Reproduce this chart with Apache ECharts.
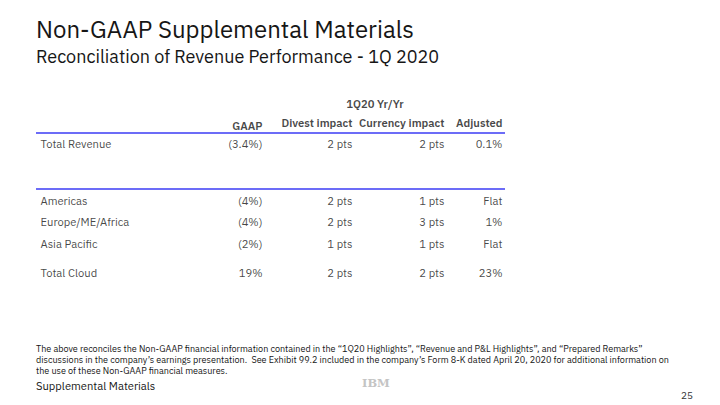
<!DOCTYPE html>
<html>
<head>
<meta charset="utf-8">
<script src="https://cdn.jsdelivr.net/npm/echarts@6/dist/echarts.min.js"></script>
<style>
html,body{margin:0;padding:0;background:#fff;}
#chart{width:720px;height:405px;}
</style>
</head>
<body>
<div id="chart"></div>
<script>
// ---- data ----
var title = 'Non-GAAP Supplemental Materials';
var subtitle = 'Reconciliation of Revenue Performance - 1Q 2020';
var groupHeader = '1Q20 Yr/Yr';
var columns = ['GAAP', 'Divest impact', 'Currency impact', 'Adjusted'];
var rowLabels = ['Total Revenue', 'Americas', 'Europe/ME/Africa', 'Asia Pacific', 'Total Cloud'];
var gaap = ['(3.4%)', '(4%)', '(4%)', '(2%)', '19%'];
var divest = ['2 pts', '2 pts', '2 pts', '1 pts', '2 pts'];
var currency = ['2 pts', '1 pts', '3 pts', '1 pts', '2 pts'];
var adjusted = ['0.1%', 'Flat', '1%', 'Flat', '23%'];
var footnote = [
  'The above reconciles the Non-GAAP financial information contained in the \u201c1Q20 Highlights\u201d, \u201cRevenue and P&L Highlights\u201d, and \u201cPrepared Remarks\u201d',
  'discussions in the company\u2019s earnings presentation.  See Exhibit 99.2 included in the company\u2019s Form 8-K dated April 20, 2020 for additional information on',
  'the use of these Non-GAAP financial measures.'
];
var footerLeft = 'Supplemental Materials';
var pageNumber = '25';

// ---- layout (positions in page coordinates) ----
var layout = {
  labelX: 40,
  colRight: [263, 353, 445, 503],
  headerY: [126, 123, 123, 123],
  groupX: 375, groupY: 104,
  rowY: [144, 201, 222, 244, 273],
  ruleY: [133, 189], ruleX0: 36, ruleX1: 505,
  footX: 36, footY: 343, footWidth: 607
};
var FONT = '"IBM Plex Sans", "Noto Sans", "Open Sans", sans-serif';
var FOOT_FONT = '8.6px "IBM Plex Sans", "Noto Sans", sans-serif';
var TXT = '#161616';

// fit footnote width to the original line length
var mctx = document.createElement('canvas').getContext('2d');
mctx.font = FOOT_FONT;
var footScale = layout.footWidth / mctx.measureText(footnote[0]).width;
footScale = Math.max(0.8, Math.min(1.2, footScale));

var columnValues = [gaap, divest, currency, adjusted];

var rowLabelData = rowLabels.map(function (r, i) { return [layout.labelX, layout.rowY[i], r]; });
var cellData = [];
columnValues.forEach(function (col, c) {
  col.forEach(function (v, r) { cellData.push([layout.colRight[c], layout.rowY[r], v]); });
});
var headerData = columns.map(function (h, c) { return [layout.colRight[c], layout.headerY[c], h]; });

function textSeries(data, pos, bold) {
  return {
    type: 'scatter', data: data, symbolSize: 1, silent: true, animation: false,
    itemStyle: { color: 'rgba(0,0,0,0)' },
    label: {
      show: true, position: pos, distance: 0,
      formatter: function (p) { return p.value[2]; },
      color: TXT, fontSize: 11.2, fontFamily: FONT, fontWeight: bold ? 600 : 'normal'
    }
  };
}

var series = [
  textSeries(rowLabelData, 'right', false),
  textSeries(cellData, 'left', false),
  textSeries(headerData, 'left', true),
  textSeries([[layout.groupX, layout.groupY, groupHeader]], 'inside', true),
  {
    type: 'line', silent: true, animation: false, symbol: 'none',
    data: [[layout.ruleX0, layout.ruleY[0]], [layout.ruleX1, layout.ruleY[0]]],
    lineStyle: { color: '#3b3bf5', width: 1.5 }
  },
  {
    type: 'line', silent: true, animation: false, symbol: 'none',
    data: [[layout.ruleX0, layout.ruleY[1]], [layout.ruleX1, layout.ruleY[1]]],
    lineStyle: { color: '#3b3bf5', width: 1.5 }
  }
];

var chart = echarts.init(document.getElementById('chart'), null, { renderer: 'svg' });
chart.setOption({
  backgroundColor: '#ffffff',
  animation: false,
  title: [
    { text: title, left: 31, top: 12, textStyle: { fontSize: 24, fontWeight: 'normal', color: TXT, fontFamily: FONT } },
    { text: subtitle, left: 31, top: 42, textStyle: { fontSize: 18, fontWeight: 'normal', color: TXT, fontFamily: FONT } }
  ],
  grid: { left: 0, right: 0, top: 0, bottom: 0 },
  xAxis: { type: 'value', min: 0, max: 720, show: false },
  yAxis: { type: 'value', min: 0, max: 405, inverse: true, show: false },
  series: series,
  graphic: [
    { type: 'text', x: layout.footX, y: layout.footY, scaleX: footScale, originX: 0, originY: 0,
      style: { text: footnote.join('\n'), fill: TXT, font: FOOT_FONT, lineHeight: 11 } },
    { type: 'text', left: 36, top: 380, style: { text: footerLeft, fill: TXT, font: '11.2px ' + FONT } },
    { type: 'text', left: 362, top: 377, style: { text: 'IBM', fill: '#c4c4c4', font: 'bold 11.5px "DejaVu Serif", serif' } },
    { type: 'text', right: 27, top: 390, style: { text: pageNumber, fill: '#333', font: '10px ' + FONT } }
  ]
});
</script>
</body>
</html>
